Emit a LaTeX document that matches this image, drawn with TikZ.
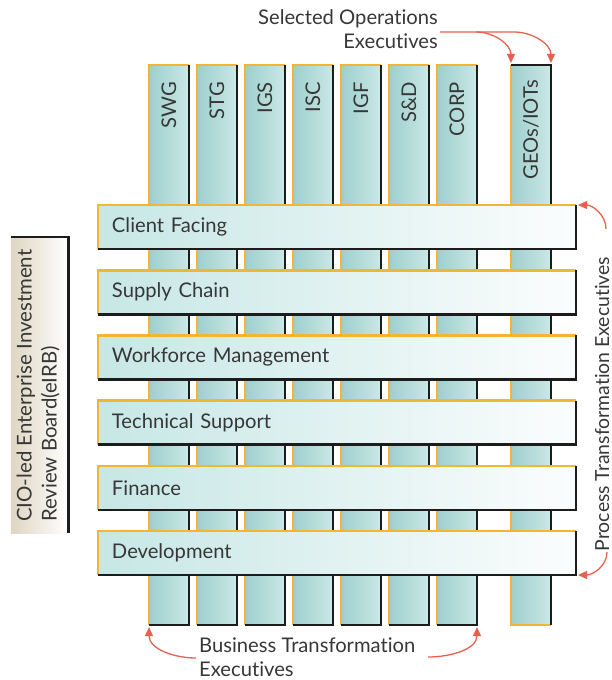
\documentclass[tikz,border=0pt]{standalone}
\usepackage{fontspec}
\setmainfont{Lato}[Ligatures=NoCommon]
\usetikzlibrary{arrows.meta}
\definecolor{ybord}{RGB}{243,182,52}
\definecolor{kbord}{RGB}{28,28,28}
\definecolor{colL}{RGB}{158,207,205}
\definecolor{colR}{RGB}{202,232,230}
\definecolor{rowL}{RGB}{198,231,229}
\definecolor{rowR}{RGB}{251,253,253}
\definecolor{boxL}{RGB}{222,214,194}
\definecolor{txt}{RGB}{55,55,55}
\definecolor{arr}{RGB}{230,98,78}
\begin{document}
\begin{tikzpicture}[x=1bp,y=-1bp,
  lbl/.style={text=txt,font=\fontsize{20.2bp}{24bp}\selectfont,inner sep=0pt},
  colbox/.style={rectangle,inner sep=0pt,outer sep=0pt,minimum width=40bp,minimum height=560bp,left color=colL,right color=colR},
  rowbox/.style={rectangle,inner xsep=14bp,inner ysep=0pt,outer sep=0pt,text width=450bp,align=left,minimum height=44bp,left color=rowL,right color=rowR,text=txt,font=\fontsize{20.2bp}{24bp}\selectfont},
  collbl/.style={lbl,rotate=90,anchor=east},
  ylw/.style={draw=ybord,line width=2.6bp},
  blk/.style={draw=kbord,line width=2.6bp},
  redarr/.style={draw=arr,line width=1.3bp,-{Triangle[length=9bp,width=8bp]}}
]
\useasboundingbox (0,0) rectangle (612,680);
% columns
\foreach \n/\x/\t in {c1/169/SWG,c2/217/STG,c3/265/IGS,c4/313/ISC,c5/361/IGF,c6/409/S\&D,c7/457/CORP}{
  \node[colbox] (\n) at (\x,345) {};
  \draw[ylw] (\n.south west) -- (\n.north west) -- (\n.north east);
  \draw[blk] (\n.north east) -- (\n.south east) -- (\n.south west);
  \node[collbl] (\n t) at (\x,82) {\t};
}
\node[colbox] (geo) at (531,345) {};
\draw[ylw] (geo.north west) -- (geo.south west) -- (geo.south east);
\draw[blk] (geo.north west) -- (geo.north east) -- (geo.south east);
\node[collbl] (geot) at (531,80) {GEOs/IOTs};
% rows
\foreach \n/\y/\t in {r1/227/Client Facing,r2/292.2/Supply Chain,r3/357.4/Workforce Management,r4/422.6/Technical Support,r5/487.8/Finance,r6/553/Development}{
  \node[rowbox] (\n) at (337,\y) {\t};
  \draw[ylw] (\n.south west) -- (\n.north west) -- (\n.north east);
  \draw[blk] (\n.north east) -- (\n.south east) -- (\n.south west);
}
% left box
\node[rectangle,inner sep=0pt,minimum width=57bp,minimum height=296bp,left color=boxL,right color=white] (eirb) at (39.5,385) {};
\draw[blk] (eirb.north west) -- (eirb.north east) -- (eirb.south east);
\node[lbl,rotate=90,anchor=west,align=left,font=\fontsize{20.4bp}{25bp}\selectfont] (eirbt) at (38,522) {CIO-led Enterprise Investment\\Review Board(eIRB)};
% labels
\node[lbl,anchor=north east,align=right] (selop) at (438,9) {Selected Operations\\Executives};
\node[lbl,anchor=north west,align=left] (bizt) at (199,638) {Business Transformation\\Executives};
\node[lbl,rotate=90,anchor=base,font=\fontsize{19.4bp}{24bp}\selectfont] (proct) at (609,404) {Process Transformation Executives};
% arrows
\coordinate (sa) at (440,32);
\coordinate (sb) at (476,32);
\draw[redarr] (sa) -- (sb) to[out=0,in=90] ([yshift=2bp]geo.north west);
\draw[redarr] (sb) -- (514,32) to[out=0,in=90] ([yshift=2bp]geo.north east);
\coordinate (pa) at (606,229);
\coordinate (pb) at (607,552);
\draw[redarr] (pa) to[out=90,in=0] ([xshift=2bp]r1.north east);
\draw[redarr] (pb) to[out=-90,in=0] ([xshift=2bp]r6.south east);
\coordinate (ba) at (196,658);
\coordinate (bb) at (428,657);
\draw[redarr] (ba) to[out=180,in=-90] ([yshift=-2bp]c1.south west);
\draw[redarr] (bb) to[out=0,in=-90] ([yshift=-2bp]c7.south east);
\end{tikzpicture}
\end{document}
